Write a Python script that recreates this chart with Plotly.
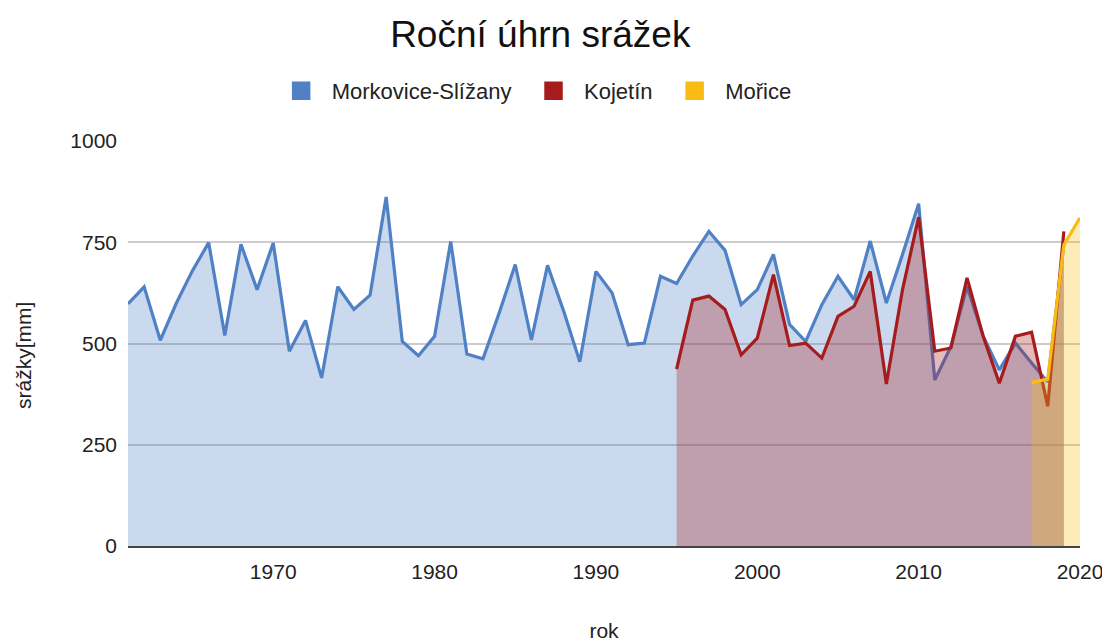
import plotly.graph_objects as go

years_blue = list(range(1961, 2020))
morkovice = [598, 640, 508, 600, 680, 749, 520, 745, 633, 748,
             481, 557, 415, 640, 584, 619, 862, 505, 470, 518,
             752, 474, 462, 575, 695, 509, 693, 580, 455, 678,
             625, 497, 501, 666, 648, 716, 777, 730, 596, 633,
             720, 547, 505, 596, 666, 608, 753, 600, 720, 845,
             410, 493, 641, 518, 435, 501, 452, 405, 745]

years_red = list(range(1995, 2020))
kojetin = [437, 607, 617, 584, 472, 513, 670, 495, 501, 464,
           567, 592, 678, 400, 633, 812, 481, 489, 662, 518,
           402, 518, 528, 345, 777]

years_yellow = list(range(2017, 2021))
morice = [404, 412, 744, 810]

names = ["Morkovice-Slížany", "Kojetín", "Mořice"]
colors = ["#4f81c4", "#a61c1c", "#f9bc15"]
fills = ["rgba(79,129,196,0.3)", "rgba(166,28,28,0.3)", "rgba(249,188,21,0.3)"]

fig = go.Figure()
for xs, ys, nm, c, f in zip([years_blue, years_red, years_yellow],
                            [morkovice, kojetin, morice], names, colors, fills):
    fig.add_trace(go.Scatter(x=xs, y=ys, mode="lines", name=nm,
                             line=dict(color=c, width=3.2), fill="tozeroy",
                             fillcolor=f, showlegend=False, hoverinfo="x+y"))
for i, (nm, c) in enumerate(zip(names, colors)):
    tail = "" if i == len(names) - 1 else "\u2002\u00a0"
    fig.add_trace(go.Scatter(x=[None], y=[None], mode="markers", name="\u00a0\u2009" + nm + tail,
                             marker=dict(symbol="square", size=16, color=c,
                                         line=dict(color=c, width=2.5))))

W, H = 1102, 634
fig.update_layout(
    width=W, height=H,
    paper_bgcolor="white", plot_bgcolor="white",
    margin=dict(l=120, r=30, t=133, b=96),
    font=dict(family="Liberation Sans, Arial, sans-serif", size=21, color="#222"),
    title=dict(text="Roční úhrn srážek", x=0.483, xref="container", xanchor="center",
               y=1 - 26 / H, yref="container", yanchor="middle",
               font=dict(size=37, color="#111")),
    legend=dict(orientation="h", x=0.482, xref="container", xanchor="center",
                y=1 - 83 / H, yref="container",
                yanchor="middle", font=dict(size=22, color="#222"),
                traceorder="normal"),
    showlegend=True,
    annotations=[dict(text="srážky[mm]", textangle=-90, xref="paper", yref="paper",
                      x=(15 - 120) / 952, y=(538 - 348) / 405, xanchor="center", yanchor="middle",
                      showarrow=False, font=dict(size=21, color="#222"))],
)
fig.update_xaxes(range=[1961, 2020], tickvals=[1970, 1980, 1990, 2000, 2010, 2020],
                 showgrid=False, zeroline=False, showline=True, linecolor="#444", linewidth=2,
                 ticks="", tickfont=dict(size=21, color="#222"), ticklabelstandoff=6,
                 automargin=False,
                 title=dict(text="rok", standoff=42, font=dict(size=21, color="#222")))
fig.update_yaxes(range=[0, 1000], tickvals=[0, 250, 500, 750, 1000],
                 showgrid=True, gridcolor="#cccccc", gridwidth=1.5, zeroline=False,
                 automargin=False,
                 ticks="", tickfont=dict(size=21, color="#222"), ticklabelstandoff=10)

fig.write_html("out.html")
